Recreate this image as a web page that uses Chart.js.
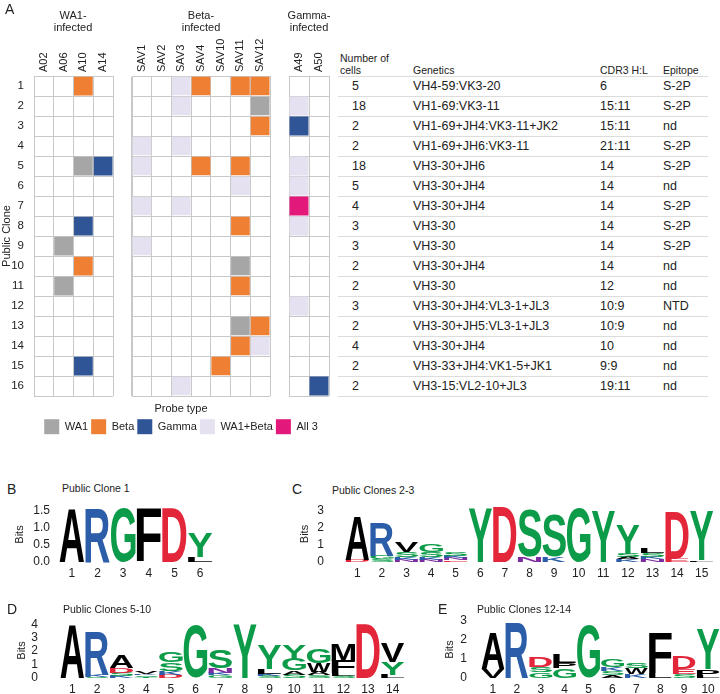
<!DOCTYPE html>
<html>
<head>
<meta charset="utf-8">
<script src="https://cdn.jsdelivr.net/npm/chart.js@4.4.1/dist/chart.umd.min.js"></script>
<style>
  body { margin: 0; background: #fff; }
  #page { position: relative; width: 720px; height: 694px; overflow: hidden; background: #fff;
          font-family: "Liberation Sans", Arial, sans-serif; color: #222; }
  canvas { position: absolute; }
  .lbl { position: absolute; white-space: nowrap; }
  .panel { font-size: 14px; line-height: 16px; }
  .sub { font-size: 10.5px; line-height: 12px; }
  .grp { font-size: 11px; line-height: 12px; width: 80px; text-align: center; }
  .cell { font-size: 12.5px; line-height: 20px; }
  .rule { position: absolute; left: 338px; width: 370px; height: 1px; background: #dcdcdc; }
</style>
</head>
<body>
<div id="page">
  <canvas id="wa1" width="114" height="398" style="left:0;top:0"></canvas>
  <canvas id="beta" width="140" height="398" style="left:131px;top:0"></canvas>
  <canvas id="gamma" width="42" height="398" style="left:288px;top:0"></canvas>
  <canvas id="legend" width="340" height="80" style="left:11px;top:398px"></canvas>
  <canvas id="logoB" width="214" height="82" style="left:0;top:500px"></canvas>
  <canvas id="logoC" width="425" height="82" style="left:290px;top:500px"></canvas>
  <canvas id="logoD" width="406" height="79" style="left:0;top:615px"></canvas>
  <canvas id="logoE" width="295" height="79" style="left:425px;top:615px"></canvas>

  <div class="lbl panel" style="left:5px;top:1px">A</div>
  <div class="lbl grp" style="left:33px;top:9px">WA1-<br>infected</div>
  <div class="lbl grp" style="left:161px;top:9px">Beta-<br>infected</div>
  <div class="lbl grp" style="left:269px;top:9px">Gamma-<br>infected</div>
  <div class="lbl panel" style="left:7px;top:481px">B</div>
  <div class="lbl panel" style="left:292px;top:481px">C</div>
  <div class="lbl panel" style="left:7px;top:601px">D</div>
  <div class="lbl panel" style="left:438px;top:601px">E</div>
  <div class="lbl sub" style="left:62px;top:482px">Public Clone 1</div>
  <div class="lbl sub" style="left:332px;top:484px">Public Clones 2-3</div>
  <div class="lbl sub" style="left:63px;top:603px">Public Clones 5-10</div>
  <div class="lbl sub" style="left:477px;top:603px">Public Clones 12-14</div>

  <div class="lbl sub" style="left:340px;top:52px">Number of</div>
  <div class="lbl sub" style="left:340px;top:64px">cells</div>
  <div class="lbl sub" style="left:413px;top:64px">Genetics</div>
  <div class="lbl sub" style="left:600px;top:64px">CDR3 H:L</div>
  <div class="lbl sub" style="left:663px;top:64px">Epitope</div>
  <div id="table"></div>
</div>
<script>
// heatmap: public clones x donors
const rowLabels = ['1','2','3','4','5','6','7','8','9','10','11','12','13','14','15','16'];
const wa1Cols = ['A02','A06','A10','A14'];
const betaCols = ['SAV1','SAV2','SAV3','SAV4','SAV10','SAV11','SAV12'];
const gammaCols = ['A49','A50'];

const probeTypes = ['WA1','Beta','Gamma','WA1+Beta','All 3'];
const probeColors = ['#a6a6a6','#ef7f33','#2f5597','#e5e1f0','#e2187a'];

// [donor, public clone] for each probe type
const wa1Cells = [['A06',9],['A06',11],['A10',5],['SAV12',2],['SAV11',10],['SAV11',13]];
const betaCells = [['A10',1],['A10',10],['SAV4',1],['SAV11',1],['SAV12',1],['SAV12',3],['SAV4',5],
  ['SAV11',5],['SAV11',8],['SAV11',11],['SAV12',13],['SAV11',14],['SAV10',15]];
const gammaCells = [['A14',5],['A10',8],['A10',15],['A49',3],['A50',16]];
const wa1BetaCells = [['SAV3',1],['SAV3',2],['SAV1',4],['SAV3',4],['SAV1',5],['SAV11',6],['SAV1',7],
  ['SAV3',7],['SAV1',9],['SAV12',14],['SAV3',16],['A49',2],['A49',5],['A49',6],['A49',8],['A49',12]];
const all3Cells = [['A49',7]];
const cellSets = [wa1Cells, betaCells, gammaCells, wa1BetaCells, all3Cells];

// table next to the heatmap
const cellCounts = ['5','18','2','2','18','5','4','3','3','2','2','3','2','4','2','2'];
const genetics = ['VH4-59:VK3-20','VH1-69:VK3-11','VH1-69+JH4:VK3-11+JK2','VH1-69+JH6:VK3-11',
  'VH3-30+JH6','VH3-30+JH4','VH3-30+JH4','VH3-30','VH3-30','VH3-30+JH4','VH3-30',
  'VH3-30+JH4:VL3-1+JL3','VH3-30+JH5:VL3-1+JL3','VH3-30+JH4','VH3-33+JH4:VK1-5+JK1','VH3-15:VL2-10+JL3'];
const cdr3 = ['6','15:11','15:11','21:11','14','14','14','14','14','14','12','10:9','10:9','10','9:9','19:11'];
const epitopes = ['S-2P','S-2P','nd','S-2P','S-2P','nd','S-2P','S-2P','S-2P','nd','nd','NTD','nd','nd','nd','nd'];

// sequence logos: letters per position, bottom to top, with their bits
const logoBPositions = ['1','2','3','4','5','6'];
const logoBLetters = [['A'],['R'],['G'],['F'],['D'],['L','Y']];
const logoBBits = [[1.58],[1.58],[1.58],[1.58],[1.58],[0.14,0.72]];

const logoCPositions = ['1','2','3','4','5','6','7','8','9','10','11','12','13','14','15'];
const logoCLetters = [['D','A'],['S','G','R'],['N','K','S','V'],['N','K','S','G'],['E','N','K','S'],
  ['Y'],['D'],['N','S'],['K','S'],['G'],['Y'],['K','A','S','Y'],['N','K','S','L'],['E','D'],['L','Y']];
const logoCBits = [[0.12,2.63],[0.15,0.2,1.95],[0.12,0.15,0.3,0.6],[0.12,0.15,0.3,0.45],[0.1,0.12,0.15,0.25],
  [3.2],[3.25],[0.3,2.8],[0.3,2.45],[3.2],[3.0],[0.15,0.15,0.2,1.7],[0.15,0.15,0.25,0.3],[0.2,2.75],[0.1,2.85]];

const logoDPositions = ['1','2','3','4','5','6','7','8','9','10','11','12','13','14'];
const logoDLetters = [['A'],['S','K','R'],['K','S','D','A'],['T','S','K','V'],['D','K','S','G'],['G'],
  ['G','K','N','S'],['Y'],['S','K','L','Y'],['S','A','G','Y'],['S','A','W','G'],['S','L','F','M'],['D'],['L','Y','V']];
const logoDBits = [[4.0],[0.1,0.15,3.25],[0.15,0.25,0.35,0.95],[0.1,0.1,0.12,0.15],[0.25,0.3,0.6,0.75],[3.95],
  [0.2,0.2,0.35,1.4],[4.0],[0.15,0.15,0.35,1.8],[0.25,0.3,0.9,1.0],[0.2,0.25,0.65,1.1],[0.15,0.2,0.95,1.25],[4.0],[0.25,0.95,1.45]];

const logoEPositions = ['1','2','3','4','5','6','7','8','9','10'];
const logoELetters = [['V','A'],['R'],['G','S','D'],['G','P','L'],['G'],['A','S','K','G'],['K','W','S'],
  ['L','F'],['S','E','D'],['L','P','Y']];
const logoEBits = [[0.45,1.9],[2.9],[0.3,0.3,0.55],[0.5,0.3,0.45],[2.8],[0.15,0.2,0.2,0.4],[0.2,0.3,0.3],
  [0.25,2.1],[0.2,0.25,0.7],[0.1,0.35,2.05]];

const letterColors = { A:'#000', V:'#000', L:'#000', I:'#000', P:'#000', W:'#000', F:'#000', M:'#000',
  G:'#0c9b48', S:'#0c9b48', T:'#0c9b48', Y:'#0c9b48', C:'#0c9b48',
  K:'#2b5da9', R:'#2b5da9', H:'#2b5da9', D:'#e3263a', E:'#e3263a', N:'#7b2c9e', Q:'#7b2c9e' };

Chart.defaults.font.family = '"Liberation Sans", Arial, sans-serif';
Chart.defaults.color = '#222';
const gridColor = '#c8c8c8';

// fixed axis sizes; drop the label overhang padding so chart areas land where wanted
const fixSize = (w, h) => s => {
  if (w !== null) s.width = w;
  if (h !== null) s.height = h;
  s.paddingTop = 0; s.paddingBottom = 0; s.paddingLeft = 0; s.paddingRight = 0;
};

const cellRadius = ctx => {
  const { x, y } = ctx.chart.scales;
  const w = x.width / x.getLabels().length;
  const h = y.height / y.getLabels().length;
  return (Math.min(w, h) - 1) / Math.SQRT2;
};

function heatChart(id, cols, showRows) {
  const datasets = probeTypes.map((name, i) => ({
    label: name,
    data: cellSets[i].filter(c => cols.includes(c[0])).map(c => ({ x: c[0], y: String(c[1]) })),
    backgroundColor: probeColors[i],
    pointStyle: 'rect',
    pointRadius: cellRadius,
    pointHoverRadius: cellRadius,
    borderWidth: 0
  }));
  return new Chart(document.getElementById(id), {
    type: 'scatter',
    data: { datasets },
    options: {
      responsive: false, animation: false, events: [],
      layout: { padding: { top: 33, left: showRows ? 0 : 1, right: 1, bottom: 2 } },
      plugins: { legend: { display: false }, tooltip: { enabled: false } },
      scales: {
        x: {
          type: 'category', labels: cols, position: 'top', offset: true,
          grid: { offset: true, color: gridColor, drawTicks: false },
          border: { color: gridColor },
          ticks: { autoSkip: false, maxRotation: 90, minRotation: 90, padding: 4, labelOffset: 13.2, font: { size: 11 } },
          afterFit: fixSize(null, 43)
        },
        y: {
          type: 'category', labels: rowLabels, offset: true,
          grid: { offset: true, color: gridColor, drawTicks: false },
          border: { color: gridColor },
          ticks: { display: showRows, autoSkip: false, padding: 10, font: { size: 11.5 } },
          title: { display: showRows, text: 'Public Clone', font: { size: 11 }, padding: { top: 0, bottom: 0 } },
          afterFit: fixSize(showRows ? 34 : 0, null)
        }
      }
    }
  });
}

heatChart('wa1', wa1Cols, true);
heatChart('beta', betaCols, false);
heatChart('gamma', gammaCols, false);

// probe type legend
new Chart(document.getElementById('legend'), {
  type: 'bar',
  data: { labels: [], datasets: probeTypes.map((name, i) => ({ label: name, data: [], backgroundColor: probeColors[i], borderWidth: 0 })) },
  options: {
    responsive: false, animation: false, events: [],
    scales: { x: { display: false }, y: { display: false } },
    plugins: {
      tooltip: { enabled: false },
      legend: {
        position: 'top',
        title: { display: true, text: 'Probe type', font: { size: 11 }, padding: { top: 5, bottom: 0 } },
        labels: { boxWidth: 15, boxHeight: 15, padding: 3, font: { size: 11 }, color: '#222' }
      }
    }
  }
});

// table rows
const table = document.getElementById('table');
for (let i = 0; i <= rowLabels.length; i++) {
  const r = document.createElement('div');
  r.className = 'rule';
  r.style.top = (76 + i * 20) + 'px';
  table.appendChild(r);
}
const tableCols = [[cellCounts, 352], [genetics, 413], [cdr3, 600], [epitopes, 663]];
rowLabels.forEach((_, i) => {
  tableCols.forEach(([vals, left]) => {
    const d = document.createElement('div');
    d.className = 'lbl cell';
    d.style.left = left + 'px';
    d.style.top = (76 + i * 20) + 'px';
    d.textContent = vals[i];
    table.appendChild(d);
  });
});

// stretch each letter into its stacked bar
function drawGlyph(ctx, ch, left, top, w, h) {
  ctx.save();
  ctx.font = 'bold 100px "Liberation Sans", Arial, sans-serif';
  ctx.textAlign = 'left';
  ctx.textBaseline = 'alphabetic';
  const m = ctx.measureText(ch);
  const gw = m.actualBoundingBoxLeft + m.actualBoundingBoxRight;
  const gh = m.actualBoundingBoxAscent + m.actualBoundingBoxDescent;
  ctx.translate(left, top);
  ctx.scale(w / gw, h / gh);
  ctx.fillStyle = letterColors[ch] || '#000';
  ctx.fillText(ch, m.actualBoundingBoxLeft, m.actualBoundingBoxAscent);
  ctx.restore();
}

const letterPlugin = {
  id: 'logoLetters',
  afterDatasetsDraw(chart) {
    const ctx = chart.ctx;
    chart.data.datasets.forEach((ds, i) => {
      chart.getDatasetMeta(i).data.forEach((bar, j) => {
        const ch = ds.letters[j];
        const { x, y, base, width } = bar.getProps(['x', 'y', 'base', 'width'], true);
        const h = base - y;
        if (!ch || h < 0.3) return;
        drawGlyph(ctx, ch, x - width / 2, y, width, h);
      });
    });
  }
};

function logoChart(id, positions, letters, bits, opt) {
  const layers = Math.max(...letters.map(l => l.length));
  const datasets = [];
  for (let k = 0; k < layers; k++) {
    datasets.push({
      data: bits.map(b => b[k] || 0),
      letters: letters.map(l => l[k] || ''),
      backgroundColor: 'rgba(0,0,0,0)',
      borderWidth: 0,
      barPercentage: 1,
      categoryPercentage: 0.96
    });
  }
  return new Chart(document.getElementById(id), {
    type: 'bar',
    data: { labels: positions, datasets },
    plugins: [letterPlugin],
    options: {
      responsive: false, animation: false, events: [],
      layout: { padding: { top: opt.padTop, right: opt.padRight } },
      plugins: { legend: { display: false }, tooltip: { enabled: false } },
      scales: {
        x: {
          stacked: true,
          grid: { display: false, drawTicks: false }, border: { display: false },
          ticks: { padding: 4, font: { size: 12 } },
          afterFit: fixSize(null, opt.xHeight)
        },
        y: {
          stacked: true, min: 0, max: opt.yMax,
          grid: { display: false, drawTicks: false }, border: { display: false },
          ticks: { stepSize: opt.step, autoSkip: false, includeBounds: false, padding: opt.tickPad, font: { size: 12 },
                   callback: v => v.toFixed(opt.digits) },
          title: { display: true, text: 'Bits', font: { size: 11 }, padding: { top: opt.titlePad, bottom: 0 } },
          afterFit: fixSize(opt.yWidth, null)
        }
      }
    }
  });
}

logoChart('logoB', logoBPositions, logoBLetters, logoBBits,
  { yMax: 1.62, step: 0.5, digits: 1, padTop: 7, padRight: 1, xHeight: 20, yWidth: 59, tickPad: 9, titlePad: 13 });
logoChart('logoC', logoCPositions, logoCLetters, logoCBits,
  { yMax: 3.3, step: 1, digits: 0, padTop: 6, padRight: 1, xHeight: 20, yWidth: 55, tickPad: 21, titlePad: 8 });
logoChart('logoD', logoDPositions, logoDLetters, logoDBits,
  { yMax: 4.1, step: 1, digits: 0, padTop: 8, padRight: 1, xHeight: 16, yWidth: 60, tickPad: 22, titlePad: 15 });
logoChart('logoE', logoEPositions, logoELetters, logoEBits,
  { yMax: 3.0, step: 1, digits: 0, padTop: 6, padRight: 0, xHeight: 16, yWidth: 56, tickPad: 14, titlePad: 18 });
</script>
</body>
</html>
